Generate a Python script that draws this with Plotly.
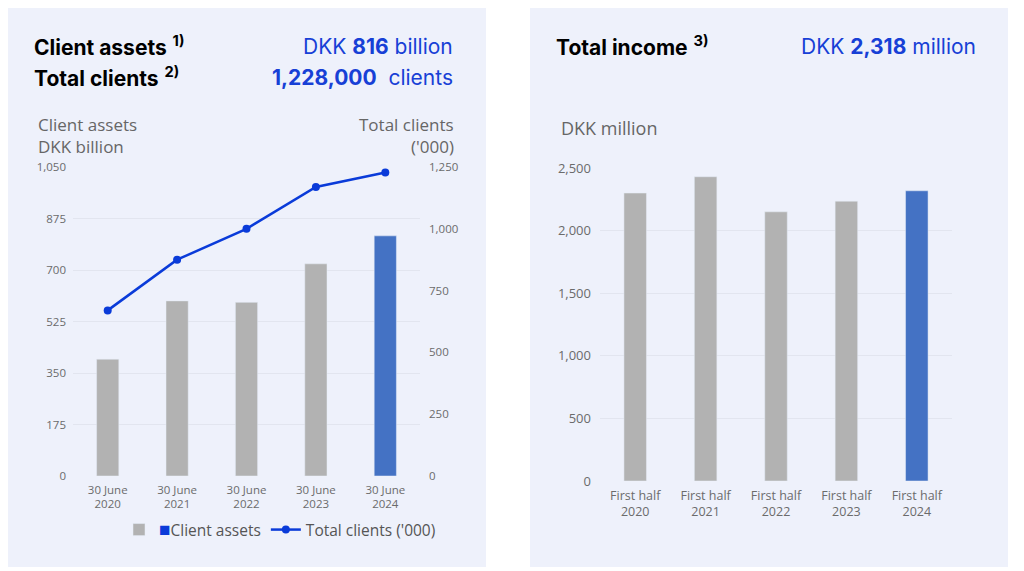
import plotly.graph_objects as go

# data
asset_dates = ["30 June<br>2020", "30 June<br>2021", "30 June<br>2022", "30 June<br>2023", "30 June<br>2024"]
client_assets = [397, 595, 590, 721, 816]          # DKK billion
total_clients = [670, 875, 1000, 1169, 1228]       # '000
income_periods = ["First half<br>2020", "First half<br>2021", "First half<br>2022",
                  "First half<br>2023", "First half<br>2024"]
total_income = [2300, 2430, 2150, 2235, 2318]      # DKK million

left_ticks = [0, 175, 350, 525, 700, 875, 1050]
right_ticks = [0, 250, 500, 750, 1000, 1250]
income_ticks = [0, 500, 1000, 1500, 2000, 2500]

GREY = "#B2B2B2"
BAR_BLUE = "#4472C4"
LINE_BLUE = "#0A3BD9"
TEXT_BLUE = "#1740D6"
PANEL = "#EEF1FB"
GRID = "#E2E5EF"
TICK = "#6B6B6B"

W, H = 1024, 571


def px(x):
    return x / W


def py(y):
    return 1 - y / H


fig = go.Figure()

# left chart: client assets bars + total clients line
legend_name = "<span style='color:%s;font-size:19px'>■</span>Client assets" % LINE_BLUE
fig.add_trace(go.Bar(x=asset_dates[:-1], y=client_assets[:-1], width=0.32,
                     marker_color=GREY, name=legend_name, xaxis="x", yaxis="y"))
fig.add_trace(go.Bar(x=asset_dates[-1:], y=client_assets[-1:], width=0.32,
                     marker_color=BAR_BLUE, showlegend=False, xaxis="x", yaxis="y"))
fig.add_trace(go.Scatter(x=asset_dates, y=total_clients, mode="lines+markers",
                         line=dict(color=LINE_BLUE, width=2.5),
                         marker=dict(color=LINE_BLUE, size=8),
                         name="Total clients ('000)", xaxis="x", yaxis="y2"))

# right chart: total income
fig.add_trace(go.Bar(x=income_periods, y=total_income, width=0.32,
                     marker_color=[GREY] * 4 + [BAR_BLUE], showlegend=False,
                     xaxis="x2", yaxis="y3"))

fig.update_layout(
    width=W, height=H,
    margin=dict(l=0, r=0, t=0, b=0, autoexpand=False),
    paper_bgcolor="white",
    plot_bgcolor="rgba(0,0,0,0)",
    barmode="overlay",
    font=dict(family="Open Sans", color=TICK),
    xaxis=dict(domain=[px(73), px(420)], anchor="y", automargin=False,
               tickfont=dict(family="Open Sans", size=11.5, color=TICK),
               ticklabelstandoff=5, showgrid=False, showline=False, ticks=""),
    yaxis=dict(domain=[py(476), py(167)], range=[0, 1050], tickvals=left_ticks,
               tickformat=",", tickfont=dict(family="Open Sans", size=11.5, color=TICK),
               ticklabelstandoff=6, gridcolor=GRID, gridwidth=1, automargin=False,
               zeroline=False, showline=False, anchor="x"),
    yaxis2=dict(domain=[py(476), py(167)], range=[0, 1250], tickvals=right_ticks,
                tickformat=",", tickfont=dict(family="Open Sans", size=11.5, color=TICK),
                ticklabelstandoff=8, overlaying="y", side="right", showgrid=False,
                zeroline=False, anchor="x", automargin=False),
    xaxis2=dict(domain=[px(600), px(952)], anchor="y3", automargin=False,
                tickfont=dict(family="Open Sans", size=12.5, color=TICK),
                ticklabelstandoff=5, showgrid=False, showline=False, ticks=""),
    yaxis3=dict(domain=[py(481), py(168)], range=[0, 2500], tickvals=income_ticks,
                tickformat=",", tickfont=dict(family="Open Sans", size=13, color=TICK),
                ticklabelstandoff=8, gridcolor=GRID, zeroline=False, anchor="x2",
                automargin=False),
    legend=dict(orientation="h", x=px(280), xanchor="center", y=py(530),
                yanchor="middle", font=dict(family="Open Sans", size=15.5, color="#555555"),
                bgcolor="rgba(0,0,0,0)", itemwidth=30, traceorder="normal"),
    shapes=[
        dict(type="rect", xref="paper", yref="paper", x0=px(8), x1=px(486),
             y0=py(567), y1=py(8), fillcolor=PANEL, line_width=0, layer="below"),
        dict(type="rect", xref="paper", yref="paper", x0=px(530), x1=px(1008),
             y0=py(567), y1=py(8), fillcolor=PANEL, line_width=0, layer="below"),
    ],
)

head = dict(family="Inter", size=21, color="black")
blue = dict(family="Inter", size=21, color=TEXT_BLUE)
label = dict(family="Open Sans", size=17, color="#666666")

annotations = [
    dict(text="<b>Client assets</b> <b><sup>1)</sup></b>", x=px(32), y=py(46),
         xanchor="left", font=head),
    dict(text="<b>Total clients</b> <b><sup>2)</sup></b>", x=px(32), y=py(77),
         xanchor="left", font=head),
    dict(text="DKK <b>816</b> billion", x=px(455), y=py(46), xanchor="right", font=blue),
    dict(text="<b>1,228,000</b>  clients", x=px(455), y=py(77), xanchor="right", font=blue),
    dict(text="Client assets", x=px(36), y=py(125), xanchor="left", font=label),
    dict(text="DKK billion", x=px(36), y=py(147), xanchor="left", font=label),
    dict(text="Total clients", x=px(456), y=py(125), xanchor="right", font=label),
    dict(text="('000)", x=px(456), y=py(147), xanchor="right", font=label),
    dict(text="<b>Total income</b> <b><sup>3)</sup></b>", x=px(554), y=py(46),
         xanchor="left", font=head),
    dict(text="DKK <b>2,318</b> million", x=px(978), y=py(46), xanchor="right", font=blue),
    dict(text="DKK million", x=px(559), y=py(128), xanchor="left",
         font=dict(family="Open Sans", size=18, color="#666666")),
]
for a in annotations:
    a.update(xref="paper", yref="paper", yanchor="middle", showarrow=False)
fig.update_layout(annotations=annotations)

fig.write_html("out.html", config={"displayModeBar": False},
               post_script="document.body.style.margin='0';")
